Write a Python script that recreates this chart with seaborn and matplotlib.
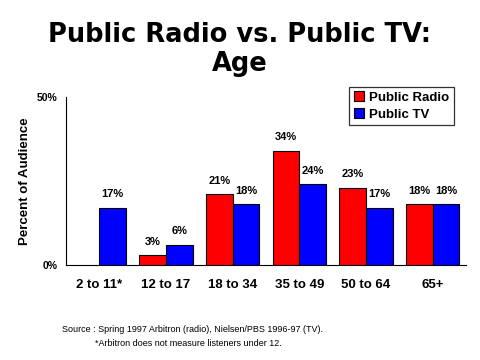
import matplotlib
matplotlib.use("Agg")
import matplotlib.pyplot as plt
import seaborn as sns
import pandas as pd
import numpy as np

# data
ages = ["2 to 11*", "12 to 17", "18 to 34", "35 to 49", "50 to 64", "65+"]
radio = [np.nan, 3, 21, 34, 23, 18]
tv = [17, 6, 18, 24, 17, 18]
series = ["Public Radio", "Public TV"]

df = pd.DataFrame({
    "age": ages * 2,
    "value": radio + tv,
    "series": [series[0]] * len(ages) + [series[1]] * len(ages),
})

sns.set_style("white", {"text.color": "black", "axes.labelcolor": "black",
                        "xtick.color": "black", "ytick.color": "black"})
plt.rcParams["font.family"] = ["Liberation Sans", "DejaVu Sans"]

fig = plt.figure(figsize=(4.8, 3.6), dpi=100)
ax = fig.add_axes([0.1375, 0.264, 0.833, 0.467])

sns.barplot(data=df, x="age", y="value", hue="series",
            palette=["#ff0000", "#0000ff"], edgecolor="black", linewidth=0.8,
            width=0.8, saturation=1, ax=ax)

for cont in ax.containers:
    labels = ["" if np.isnan(v) else "{:.0f}%".format(v) for v in cont.datavalues]
    ax.bar_label(cont, labels=labels, padding=6, fontsize=8, fontweight="bold")

ax.set_ylim(0, 50)
ax.set_yticks([0, 50])
ax.set_yticklabels(["0%", "50%"], fontsize=7.5, fontweight="bold")
ax.set_xlim(-0.5, len(ages) - 0.5)
ax.set_xticks(np.arange(len(ages)))
ax.set_xticklabels(ages, fontsize=9.5, fontweight="bold")
ax.set_xticks(np.arange(len(ages) + 1) - 0.5, minor=True)
ax.tick_params(axis="x", which="major", length=0, pad=10)
ax.tick_params(axis="x", which="minor", length=4, width=0.8, color="black", direction="out")
ax.tick_params(axis="y", length=4, width=0.8, color="black", direction="out", pad=2)
ax.set_xlabel("")
ax.set_ylabel("Percent of Audience", fontsize=9.5, fontweight="bold", labelpad=4)

for s in ["top", "right"]:
    ax.spines[s].set_visible(False)
for s in ["left", "bottom"]:
    ax.spines[s].set_color("black")
    ax.spines[s].set_linewidth(0.8)

leg = ax.legend(loc="upper right", bbox_to_anchor=(0.97, 1.06),
                frameon=True, fancybox=False, edgecolor="black",
                handlelength=0.75, handleheight=0.75, handletextpad=0.4,
                borderpad=0.35, labelspacing=0.35, borderaxespad=0,
                prop={"weight": "bold", "size": 9.5})
leg.get_frame().set_linewidth(0.9)

fig.text(0.5, 0.94, "Public Radio vs. Public TV:\nAge", ha="center", va="top",
         fontsize=18.5, fontweight="bold", family="DejaVu Sans",
         color="black", linespacing=1.15)

fig.text(0.129, 0.077, "Source : Spring 1997 Arbitron (radio), Nielsen/PBS 1996-97 (TV).",
         ha="left", fontsize=6.5)
fig.text(0.198, 0.04, "*Arbitron does not measure listeners under 12.",
         ha="left", fontsize=6.5)

fig.savefig("out.png", dpi=100)
